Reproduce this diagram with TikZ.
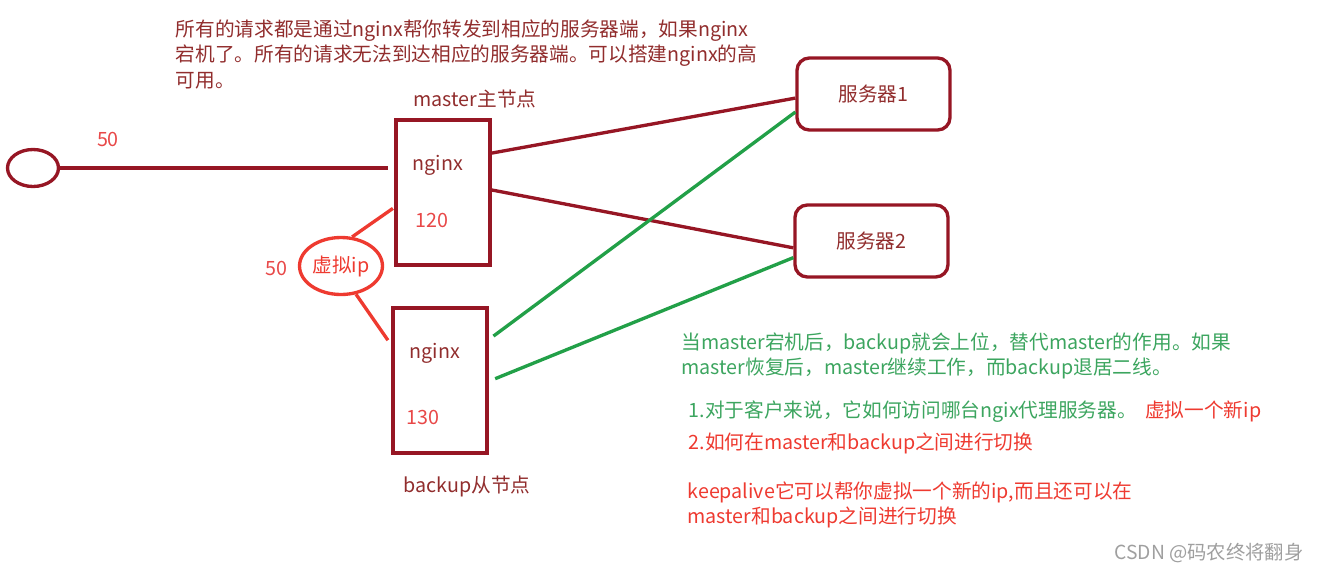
\documentclass[tikz,border=0pt]{standalone}
\usepackage{fontspec}
\setmainfont{Noto Sans CJK SC}
\usetikzlibrary{shapes.geometric}

\definecolor{boxred}{RGB}{150,22,36}
\definecolor{inkred}{RGB}{145,45,45}
\definecolor{vipred}{RGB}{238,58,48}
\definecolor{numred}{RGB}{232,72,72}
\definecolor{linegreen}{RGB}{34,160,72}
\definecolor{inkgreen}{RGB}{60,165,95}

\begin{document}
\begin{tikzpicture}[x=0.02cm, y=-0.02cm, line width=1.9pt,
    font=\fontsize{11.2}{14.5}\selectfont,
    nginxbox/.style={draw=boxred, minimum width=1.88cm, minimum height=2.9cm, inner sep=0pt},
    serverbox/.style={draw=boxred, rounded corners=7pt, minimum width=3.06cm, minimum height=1.44cm, text=inkred},
    note/.style={align=left, inner sep=0pt, anchor=north west}]

    % 0. Fix the canvas to the reference size
    \useasboundingbox (0,0) rectangle (1320,572);

    % 1. Client and the two nginx boxes
    \node[draw=boxred, ellipse, minimum width=1.02cm, minimum height=0.74cm, inner sep=0pt] (client) at (33,168) {};
    \node[nginxbox] (master) at (443,192.5) {};
    \node[nginxbox] (backup) at (440,380.5) {};

    % 2. Virtual ip between master and backup
    \node[draw=vipred, ellipse, minimum width=1.66cm, minimum height=1.14cm, inner sep=0pt] (vip) at (341,266) {};

    % 3. The two servers
    \node[serverbox] (srvA) at (873.5,94) {服务器1};
    \node[serverbox] (srvB) at (871.5,241) {服务器2};

    % 4. Connectors
    \draw[boxred, shorten >=0.12cm] (client.east) -- (master.west |- client.east);
    \draw[boxred] (master.39) -- (srvA.183);
    \draw[boxred] (master.3) -- (srvB.185);
    \draw[vipred, shorten <=1pt] (master.197) -- (vip.69);
    \draw[vipred, shorten >=0.12cm] (vip.-62) -- (backup.144);
    \draw[linegreen, shorten <=0.12cm] (backup.40) -- (srvA.193);
    \draw[linegreen, shorten <=0.14cm] (backup.-1) -- (srvB.192);

    % 5. Labels on and around the boxes
    \node[text=inkred] (masterlbl) at (475,99) {master主节点};
    \node[text=inkred] (backuplbl) at (467,486) {backup从节点};
    \node[text=inkred] (mnginx) at (438,165) {nginx};
    \node[text=numred] (mport) at (432,220) {120};
    \node[text=inkred] (bnginx) at (435,353) {nginx};
    \node[text=numred] (bport) at (423,417) {130};
    \node[text=numred] (clientw) at (108,139) {50};
    \node[text=numred] (vipw) at (276,268) {50};
    \node[text=vipred] (viptxt) at (vip) {虚拟ip};

    % 6. Notes
    \node[note, text=inkred] (topnote) at (174,18) {所有的请求都是通过nginx帮你转发到相应的服务器端，如果nginx\\宕机了。所有的请求无法到达相应的服务器端。可以搭建nginx的高\\可用。};
    \node[note, text=inkgreen] (swapnote) at (680,331) {当master宕机后，backup就会上位，替代master的作用。如果\\master恢复后，master继续工作，而backup退居二线。};
    \node[note, text=inkgreen] (qone) at (687,399) {1.对于客户来说，它如何访问哪台ngix代理服务器。};
    \node[text=vipred, anchor=base west, inner sep=0pt] (qonea) at ([xshift=0.1cm]qone.base east) {虚拟一个新ip};
    \node[note, text=vipred] (qtwo) at (687,431) {2.如何在master和backup之间进行切换};
    \node[note, text=vipred] (keepnote) at (686,480) {keepalive它可以帮你虚拟一个新的ip,而且还可以在\\master和backup之间进行切换};
    \node[text=gray!75, font=\fontsize{11}{13}\selectfont] (wmark) at (1209,553) {CSDN @码农终将翻身};

\end{tikzpicture}
\end{document}
